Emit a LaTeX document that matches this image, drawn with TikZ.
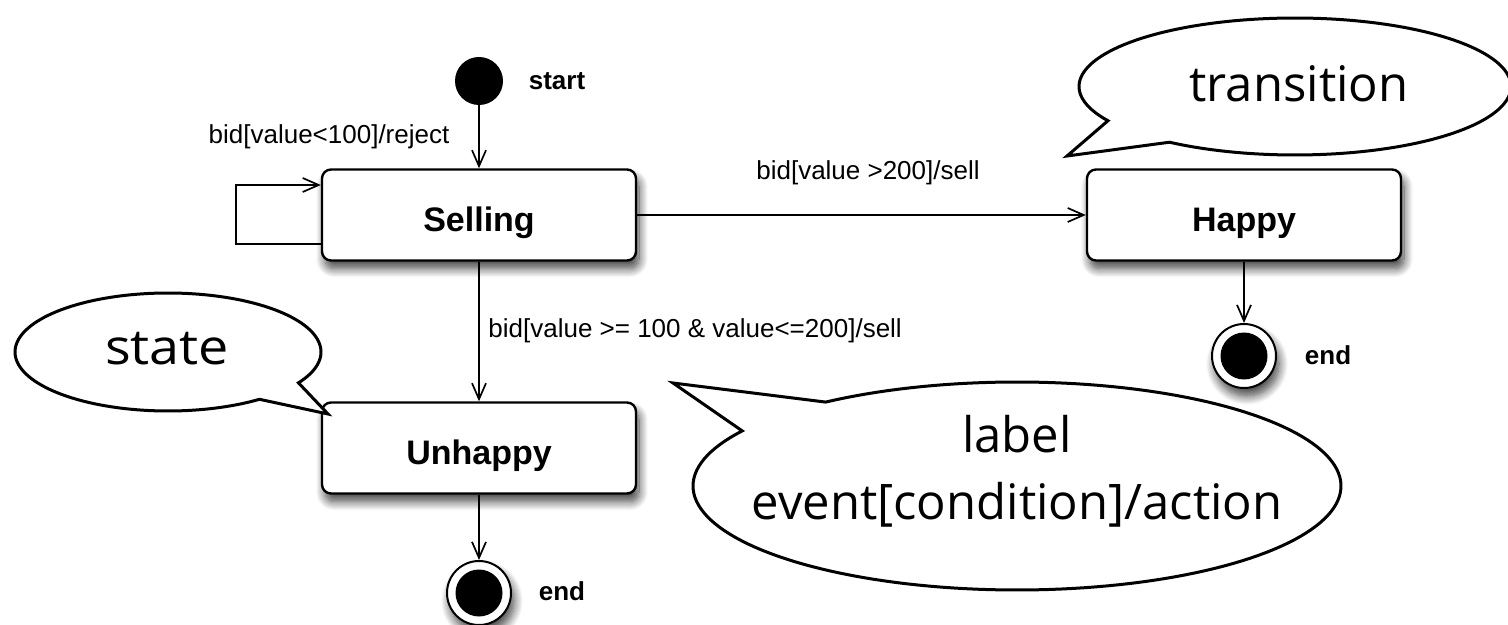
\documentclass[tikz,border=0pt]{standalone}
\usepackage{fontspec}
\setmainfont{Liberation Sans}
\newfontfamily\comicfont{Open Sans}
\usetikzlibrary{arrows.meta,shadows.blur}
\begin{document}
\begin{tikzpicture}[x=0.5pt,y=-0.5pt,
  myshadow/.style={blur shadow={shadow xshift=1.5pt, shadow yshift=-4pt, shadow blur radius=4.5pt, shadow blur steps=12, shadow opacity=75}},
  statebox/.style={draw, line width=1.2pt, rounded corners=4.5pt, fill=white, minimum width=157pt, minimum height=45.5pt, inner sep=0pt, myshadow},
  statename/.style={font=\bfseries\fontsize{17}{20}\selectfont, inner sep=0pt},
  smalllbl/.style={font=\bfseries\fontsize{13}{15}\selectfont, inner sep=0pt},
  trlabel/.style={font=\fontsize{13}{15}\selectfont, inner sep=0pt},
  comic/.style={font=\comicfont\fontsize{24.5}{28}\selectfont, inner sep=0pt},
  startdot/.style={circle, fill=black, minimum size=24pt, inner sep=0pt},
  endring/.style={circle, draw, line width=1pt, fill=white, minimum size=32pt, inner sep=0pt, myshadow},
  conn/.style={line width=0.85pt, -{Straight Barb[length=8pt,width=7pt,line width=0.85pt]}},
  bubble/.style={draw, line width=1.5pt, fill=white, line join=miter}
]
\useasboundingbox (0,0) rectangle (1508,625);

% states
\node[startdot] (start) at (479,81) {};
\node[smalllbl] (startlbl) at (557,81) {start};
\node[statebox] (sell) at (479,215) {};
\node[statename] (sellTxt) at (479,223) {Selling};
\node[statebox] (happy) at (1244,215) {};
\node[statename] (happyTxt) at (1244,223) {Happy};
\node[statebox] (unhappy) at (479,448) {};
\node[statename] (unhappyTxt) at (479,456) {Unhappy};
\node[endring] (endH) at (1244,356) {};
\fill (endH.center) circle[radius=11.75pt];
\node[smalllbl] (endHlbl) at (1328,355) {end};
\node[endring] (endU) at (479,593) {};
\fill (endU.center) circle[radius=11.75pt];
\node[smalllbl] (endUlbl) at (562,591) {end};

% transitions
\draw[conn] (start) -- (sell);
\draw[conn] (sell) -- (happy);
\draw[conn] (sell) -- (unhappy);
\draw[conn] (happy) -- (endH);
\draw[conn] (unhappy) -- (endU);
\coordinate (loopB) at (236,244);
\coordinate (loopT) at (236,185);
\draw[conn] (sell.west |- loopB) -- (loopB) -- (loopT) -- (sell.west |- loopT);

\node[trlabel] (l1) at (329,137) {bid[value<100]/reject};
\node[trlabel] (l2) at (868,173) {bid[value >200]/sell};
\node[trlabel, anchor=west] (l3) at (488,331) {bid[value >= 100 \& value<=200]/sell};

% callouts
\draw[bubble] plot[domain=150:485.55, samples=140, variable=\t] ({1295+216*cos(\t)},{86.5+68.5*sin(\t)}) -- (1067,156) -- cycle;
\draw[bubble] plot[domain=53.3:391.5, samples=140, variable=\t] ({168+153*cos(\t)},{352+59*sin(\t)}) -- (328,414) -- cycle;
\draw[bubble] plot[domain=233.8:572, samples=160, variable=\t] ({1017+324*cos(\t)},{486+104*sin(\t)}) -- (673,383) -- cycle;

\node[comic] (trTxt) at (1299,84) {transition};
\node[comic] (stTxt) at (167,349) {\scalebox{1.1}[1]{state}};
\node[comic] (lbTxt) at (1017,434) {label};
\node[comic] (evTxt) at (1017,505) {event[condition]/action};
\end{tikzpicture}
\end{document}
